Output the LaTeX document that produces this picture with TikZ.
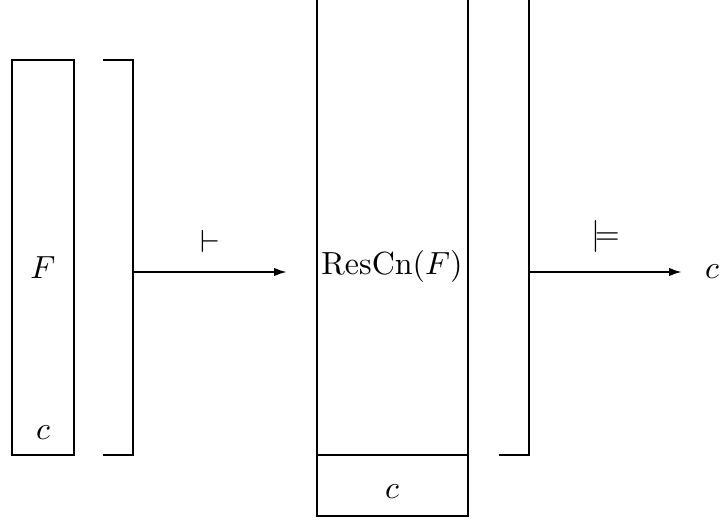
\documentclass[tikz,border=0pt]{standalone}
\usetikzlibrary{arrows.meta}
\begin{document}
\begin{tikzpicture}[x=0.3125pt,y=-0.3125pt,
  boxline/.style={line width=0.5pt},
  brackline/.style={line width=0.8pt},
  arr/.style={line width=0.65pt,-{Latex[length=4pt,width=2.6pt]}},
  lab/.style={inner sep=0pt,anchor=center}]
\useasboundingbox (0,0) rectangle (721,520);
% left box
\node[boxline,draw,minimum width=62*0.3125pt,minimum height=395*0.3125pt,inner sep=0pt] (fbox) at (43,257.5) {};
\node[lab] (F) at (43,268) {$F$};
\node[lab] (c1) at (43,433) {$c$};
% left bracket
\coordinate (b1a) at (103,60);
\coordinate (b1b) at (133,60);
\coordinate (b1c) at (133,455);
\coordinate (b1d) at (103,455);
\coordinate (b1m) at (133,272);
\draw[brackline] (b1a) -- (b1b) -- (b1c) -- (b1d);
% arrow 1
\coordinate (a1) at (287,272);
\draw[arr] (b1m) -- node[lab,above=18*0.3125pt] (vd) {$\vdash$} (a1);
% middle box
\coordinate (m1) at (317,-5);
\coordinate (m2) at (317,516);
\coordinate (m3) at (468,516);
\coordinate (m4) at (468,-5);
\coordinate (s1) at (317,455);
\coordinate (s2) at (468,455);
\draw[boxline] (m1) -- (m2) -- (m3) -- (m4);
\draw[brackline] (s1) -- (s2);
\node[lab] (res) at (392,267) {$\mathrm{ResCn}(F)$};
\node[lab] (c2) at (392,492) {$c$};
% right bracket
\coordinate (b2a) at (529,-5);
\coordinate (b2b) at (529,455);
\coordinate (b2c) at (499,455);
\coordinate (b2m) at (529,272);
\draw[brackline] (b2a) -- (b2b) -- (b2c);
% arrow 2
\node[lab] (c3) at (712,272) {$c$};
\coordinate (a2) at (682,272);
\draw[arr] (b2m) -- node[lab,above=18*0.3125pt] (md) {$\models$} (a2);
\end{tikzpicture}
\end{document}
